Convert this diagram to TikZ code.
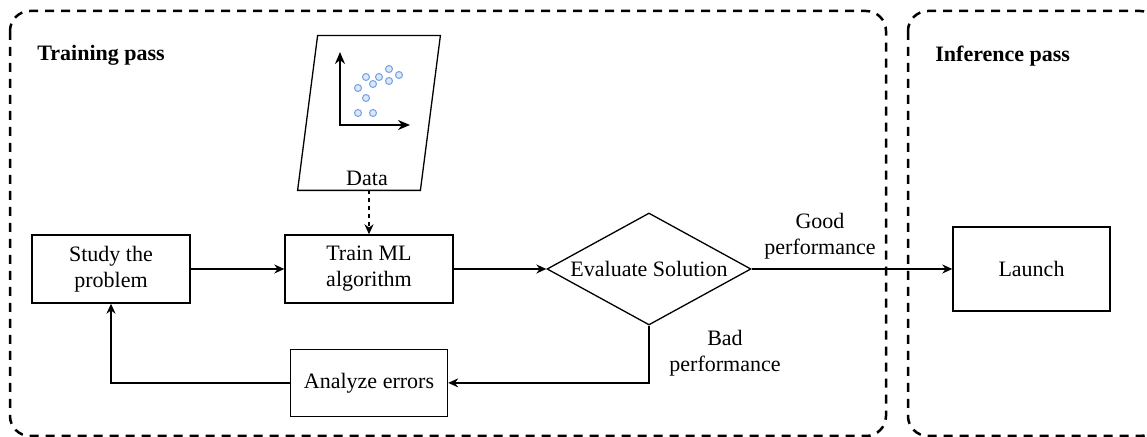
\documentclass[tikz,border=0pt]{standalone}
\usepackage{fontspec}
\setmainfont{Liberation Serif}
\usetikzlibrary{positioning,shapes.geometric,arrows.meta}

\definecolor{dotline}{HTML}{7EA6E0}
\definecolor{dotfill}{HTML}{DAE8FC}

\begin{document}
\begin{tikzpicture}[%
		x=0.5pt,
		y=-0.5pt,
		>={Stealth[length=5pt,width=4.5pt]},
		font=\fontsize{11}{13}\selectfont,
		flow/.style={%
			->,
			line width=0.65pt
		},
		block/.style={%
			draw,
			line width=0.7pt,
			minimum width=78.5pt,
			minimum height=33.5pt,
			align=center
		},
		decision/.style={%
			diamond,
			draw,
			line width=0.65pt,
			aspect=1.8,
			inner sep=0pt,
			minimum width=102pt,
			minimum height=56pt
		},
		dataset/.style={%
			inner sep=0pt,
			minimum width=71pt,
			minimum height=77pt
		},
		passbox/.style={%
			draw,
			line width=1.25pt,
			dash pattern=on 4.5pt off 3.5pt,
			rounded corners=10pt
		},
		title/.style={%
			anchor=base west,
			inner sep=0pt,
			font=\fontsize{11}{13}\selectfont\bfseries
		},
		lbl/.style={%
			align=center
		},
		dot/.style={%
			draw=dotline,
			fill=dotfill,
			line width=0.55pt
		}
		]
		\useasboundingbox (0,0) rectangle (1147,437);
		
		% the two passes
		\draw[passbox] (10,11) rectangle (886,436);
		\draw[passbox] (908,11) rectangle (1160,436);
		\node[title] (trainttl) at (37,61)  {Training pass};
		\node[title] (inferttl) at (935,62) {Inference pass};
		
		\node[dataset]  (data)    at (369,113)                    {};
		\node           (datatxt) at (367,178)                    {Data};
		\node[block]    (study)   at (111,269) [minimum width=79pt, minimum height=34pt] {Study the\\problem};
		\node[block]    (train)   at (369,269) [minimum width=84pt, minimum height=34pt] {Train ML\\algorithm};
		\node[decision] (eval)    at (649,269)                    {Evaluate Solution};
		\node[block]    (analyze) [below=22.5pt of train]         {Analyze errors};
		\node[block]    (launch)  at (1031.5,269) [minimum height=42pt] {Launch};
		
		% data sheet, slanted
		\draw[line width=0.65pt] ([xshift=10pt]data.north west) -- (data.north east)
		-- ([xshift=-10pt]data.south east) -- (data.south west) -- cycle;
		
		% little scatter plot in the data sheet
		\begin{scope}[shift={(data.center)}]
			\draw[line width=0.75pt, {Stealth[length=6pt,width=5pt]}-{Stealth[length=6pt,width=5pt]}]
			(-29,-61) -- (-29,12) -- (41,12);
			\foreach \dx/\dy in {-3/-36, 10/-36, 20/-44, 30/-38, 20/-32,
				4/-29, -11/-25, -3/-15, -11/0, 4/0}
			\draw[dot] (\dx,\dy) circle (1.75pt);
		\end{scope}
		
		\draw[flow, dash pattern=on 2pt off 2pt] (data.south) -- (train.north);
		\draw[flow] (study) -- (train);
		\draw[flow] (train) -- (eval);
		\draw[flow] (eval) -- (launch);
		\draw[flow] (eval.south) |- (analyze.east);
		\draw[flow] (analyze.west) -| (study.south);
		
		\node[lbl] (good) at (820,236.5) {Good\\performance};
		\node[lbl] (bad)  at (725,353.5) {Bad\\performance};
\end{tikzpicture}
\end{document}
